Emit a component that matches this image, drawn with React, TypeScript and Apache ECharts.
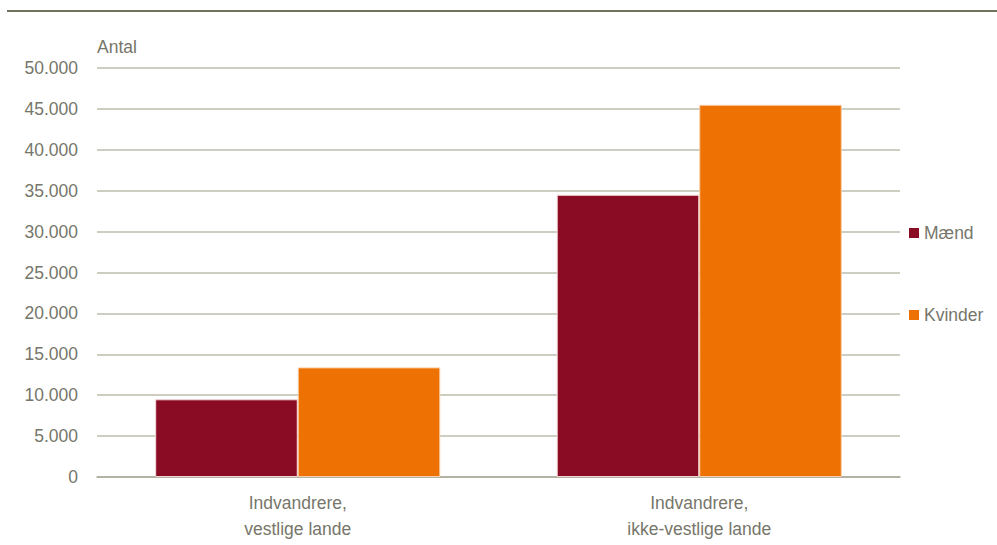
import React, { useEffect, useRef } from "react";
import * as echarts from "echarts";

const categories = ["Indvandrere,\nvestlige lande", "Indvandrere,\nikke-vestlige lande"];
const seriesNames = ["Mænd", "Kvinder"];
const maendValues = [9500, 34500];
const kvinderValues = [13400, 45500];
const yAxisName = "Antal";
const colors = ["#8A0C24", "#EE7203"];

const FONT = "'Liberation Sans', Arial, sans-serif";
const FONT_SIZE = 17.5;
const TEXT_COLOR = "#76766a";

function fmt(v: number): string {
  return String(v).replace(/\B(?=(\d{3})+(?!\d))/g, ".");
}

export default function App() {
  const ref = useRef<HTMLDivElement>(null);
  useEffect(() => {
    if (!ref.current) return;
    const chart = echarts.init(ref.current, null, { renderer: "svg" });
    chart.setOption({
      animation: false,
      backgroundColor: "#ffffff",
      color: colors,
      graphic: [
        {
          type: "line",
          shape: { x1: 7, y1: 11, x2: 997, y2: 11 },
          style: { stroke: "#727260", lineWidth: 2 },
        },
      ],
      grid: { left: 97, right: 97, top: 68, bottom: 68, containLabel: false },
      legend: {
        orient: "vertical",
        left: 909,
        top: 223,
        padding: 0,
        itemWidth: 10,
        itemHeight: 10,
        itemGap: 62,
        icon: "rect",
        data: seriesNames,
        itemStyle: { borderWidth: 0 },
        textStyle: { fontFamily: FONT, fontSize: FONT_SIZE, color: TEXT_COLOR, lineHeight: 20 },
      },
      xAxis: {
        type: "category",
        data: categories,
        axisTick: { show: false },
        axisLine: { lineStyle: { color: "#aaaa9a", width: 1.5 } },
        axisLabel: { fontFamily: FONT, fontSize: FONT_SIZE, color: TEXT_COLOR, lineHeight: 26, margin: 13 },
      },
      yAxis: {
        type: "value",
        min: 0,
        max: 50000,
        interval: 5000,
        name: yAxisName,
        nameLocation: "end",
        nameGap: 21,
        nameTextStyle: { fontFamily: FONT, fontSize: FONT_SIZE, color: TEXT_COLOR, align: "left", verticalAlign: "middle" },
        axisLine: { show: false },
        axisTick: { show: false },
        splitLine: { lineStyle: { color: "#bdbdae", width: 1.5 } },
        axisLabel: {
          fontFamily: FONT,
          fontSize: FONT_SIZE,
          color: TEXT_COLOR,
          margin: 19,
          formatter: (v: number) => fmt(v),
        },
      },
      series: [
        {
          name: seriesNames[0],
          type: "bar",
          data: maendValues,
          barGap: "0%",
          barCategoryGap: "29%",
          itemStyle: { color: colors[0], borderColor: "#f4d6d6", borderWidth: 1 },
        },
        {
          name: seriesNames[1],
          type: "bar",
          data: kvinderValues,
          barGap: "0%",
          barCategoryGap: "29%",
          itemStyle: { color: colors[1], borderColor: "#f8cfa8", borderWidth: 1 },
        },
      ],
    });
    return () => chart.dispose();
  }, []);
  return (
    <div
      ref={ref}
      style={{ position: "fixed", left: 0, top: 0, width: 997, height: 545, background: "#fff" }}
    />
  );
}
